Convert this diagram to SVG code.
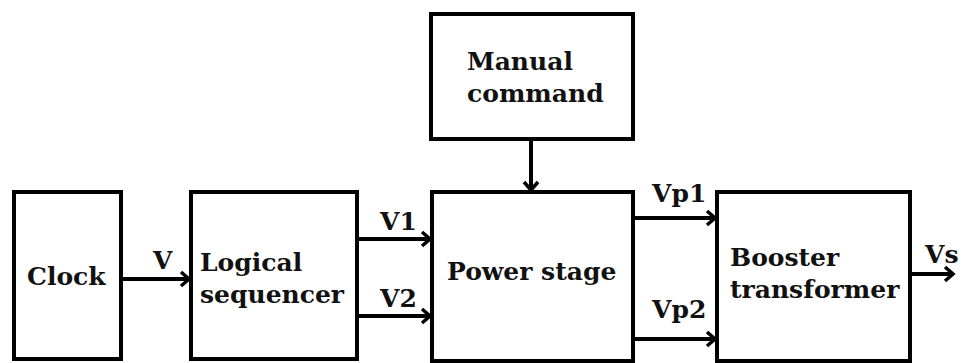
<svg xmlns="http://www.w3.org/2000/svg" width="965" height="363" viewBox="0 0 965 363">
<defs>
<style>
.box{fill:#fff;stroke:#000;stroke-width:4}
.lbl{font-family:"DejaVu Serif","Liberation Serif",serif;font-weight:bold;font-size:25px;fill:#111}
.wire{stroke:#000;stroke-width:4;fill:none}
</style>
<marker id="arr" markerUnits="userSpaceOnUse" markerWidth="14" markerHeight="18" viewBox="0 0 14 18" refX="11" refY="9" orient="auto">
<path d="M3,2 L11,9 L3,16" fill="none" stroke="#000" stroke-width="3.5"/>
</marker>
</defs>
<rect width="965" height="363" fill="#fff"/>
<g id="clock">
<rect class="box" x="14" y="192" width="107" height="167"/>
<text class="lbl" x="27" y="285">Clock</text>
</g>
<g id="sequencer">
<rect class="box" x="191" y="192" width="166" height="167"/>
<text class="lbl" x="200" y="271">Logical</text>
<text class="lbl" x="200" y="303">sequencer</text>
</g>
<g id="manual">
<rect class="box" x="431" y="14" width="202" height="125"/>
<text class="lbl" x="467" y="70">Manual</text>
<text class="lbl" x="467" y="102">command</text>
</g>
<g id="power">
<rect class="box" x="432" y="192" width="201" height="169"/>
<text class="lbl" x="447" y="280">Power stage</text>
</g>
<g id="booster">
<rect class="box" x="717" y="192" width="193" height="169"/>
<text class="lbl" x="730" y="266">Booster</text>
<text class="lbl" x="730" y="298">transformer</text>
</g>
<g id="connectors">
<line class="wire" x1="123" y1="279" x2="189" y2="279" marker-end="url(#arr)"/>
<line class="wire" x1="359" y1="239" x2="430" y2="239" marker-end="url(#arr)"/>
<line class="wire" x1="359" y1="316" x2="430" y2="316" marker-end="url(#arr)"/>
<line class="wire" x1="531" y1="141" x2="531" y2="190" marker-end="url(#arr)"/>
<line class="wire" x1="635" y1="218" x2="715" y2="218" marker-end="url(#arr)"/>
<line class="wire" x1="635" y1="339" x2="715" y2="339" marker-end="url(#arr)"/>
<line class="wire" x1="912" y1="274" x2="953" y2="274" marker-end="url(#arr)"/>
<text class="lbl" x="153" y="269">V</text>
<text class="lbl" x="380" y="230">V1</text>
<text class="lbl" x="380" y="307">V2</text>
<text class="lbl" x="652" y="202">Vp1</text>
<text class="lbl" x="652" y="318">Vp2</text>
<text class="lbl" x="925" y="263">Vs</text>
</g>
</svg>
